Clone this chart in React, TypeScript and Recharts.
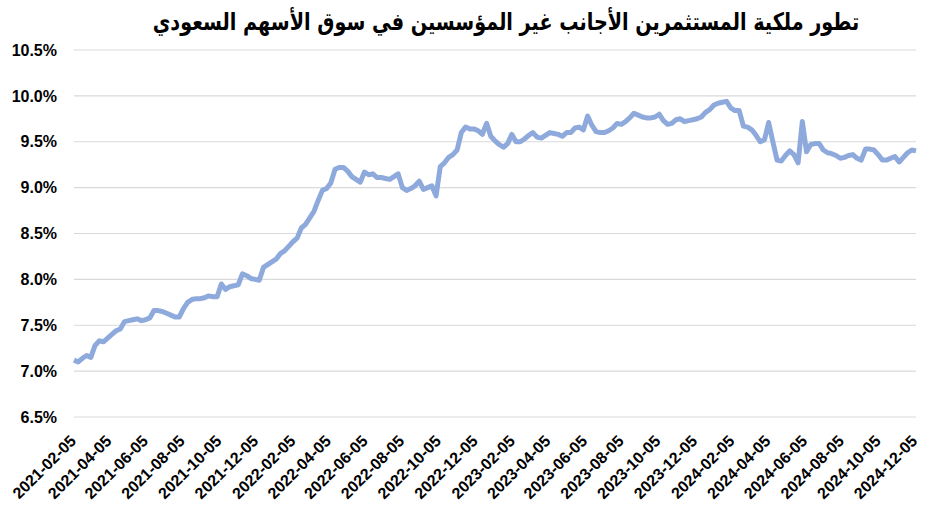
import React from 'react'
import { LineChart, Line, XAxis, YAxis, CartesianGrid } from 'recharts'

const title = 'تطور ملكية المستثمرين الأجانب غير المؤسسين في سوق الأسهم السعودي'

// weekly readings, first week 2021-02-05
const firstWeek = '2021-02-05'
const ownership = [
  7.12, 7.10, 7.14, 7.17, 7.15, 7.28, 7.33, 7.32, 7.36, 7.40,
  7.44, 7.46, 7.54, 7.55, 7.56, 7.57, 7.55, 7.56, 7.58, 7.66,
  7.66, 7.65, 7.63, 7.61, 7.59, 7.59, 7.68, 7.75, 7.78, 7.79,
  7.79, 7.80, 7.82, 7.81, 7.81, 7.95, 7.89, 7.92, 7.93, 7.94,
  8.06, 8.04, 8.01, 8.00, 7.99, 8.13, 8.16, 8.19, 8.22, 8.28,
  8.31, 8.36, 8.41, 8.45, 8.56, 8.60, 8.67, 8.74, 8.86, 8.97,
  8.99, 9.05, 9.20, 9.22, 9.22, 9.18, 9.12, 9.09, 9.06, 9.17,
  9.14, 9.15, 9.11, 9.11, 9.10, 9.09, 9.12, 9.15, 9.00, 8.97,
  8.99, 9.02, 9.07, 8.98, 9.00, 9.02, 8.91, 9.23, 9.27, 9.33,
  9.36, 9.41, 9.60, 9.66, 9.64, 9.64, 9.62, 9.58, 9.70, 9.56,
  9.51, 9.47, 9.44, 9.48, 9.58, 9.50, 9.50, 9.53, 9.57, 9.60,
  9.55, 9.54, 9.57, 9.60, 9.59, 9.58, 9.56, 9.60, 9.60, 9.65,
  9.66, 9.63, 9.78, 9.68, 9.61, 9.60, 9.60, 9.62, 9.65, 9.70,
  9.69, 9.72, 9.76, 9.81, 9.79, 9.77, 9.76, 9.76, 9.77, 9.80,
  9.73, 9.69, 9.70, 9.74, 9.75, 9.72, 9.73, 9.74, 9.75, 9.77,
  9.82, 9.85, 9.90, 9.92, 9.93, 9.94, 9.87, 9.84, 9.84, 9.67,
  9.66, 9.63, 9.57, 9.50, 9.52, 9.71, 9.50, 9.30, 9.29, 9.35,
  9.40, 9.36, 9.27, 9.72, 9.39, 9.47, 9.48, 9.48, 9.41, 9.38,
  9.37, 9.35, 9.32, 9.33, 9.35, 9.36, 9.32, 9.30, 9.42, 9.42,
  9.41, 9.36, 9.30, 9.30, 9.32, 9.34, 9.28, 9.33, 9.38, 9.41,
  9.40,
]

const tickDates = [
  '2021-02-05', '2021-04-05', '2021-06-05', '2021-08-05', '2021-10-05', '2021-12-05',
  '2022-02-05', '2022-04-05', '2022-06-05', '2022-08-05', '2022-10-05', '2022-12-05',
  '2023-02-05', '2023-04-05', '2023-06-05', '2023-08-05', '2023-10-05', '2023-12-05',
  '2024-02-05', '2024-04-05', '2024-06-05', '2024-08-05', '2024-10-05', '2024-12-05',
]

const yTicks = [6.5, 7, 7.5, 8, 8.5, 9, 9.5, 10, 10.5]

const DAY = 86400000
const start = Date.parse(firstWeek)
const data = ownership.map((v, i) => ({ t: start + i * 7 * DAY, v }))
const xTicks = tickDates.map((d) => Date.parse(d))

const font = '"Liberation Sans", Arial, sans-serif'

const fmtDate = (t: number) => new Date(t).toISOString().slice(0, 10)

const DateTick = ({ x, y, payload }: any) => {
  const px = x + 3
  const py = y + 25
  return (
    <text
      x={px}
      y={py}
      transform={`rotate(-45 ${px} ${py})`}
      textAnchor="end"
      fontSize={16}
      fontWeight="bold"
      fontFamily={font}
      fill="#000"
    >
      {fmtDate(payload.value)}
    </text>
  )
}

export default function App() {
  return (
    <div style={{ position: 'absolute', left: 0, top: 0, width: 945, height: 510, background: '#fff' }}>
      <div
        style={{
          position: 'absolute',
          left: 506,
          top: 8,
          transform: 'translateX(-50%) scaleX(0.8)',
          whiteSpace: 'nowrap',
          direction: 'rtl',
          fontFamily: '"DejaVu Sans", sans-serif',
          fontWeight: 'bold',
          fontSize: 24,
          color: '#000',
        }}
      >
        {title}
      </div>
      <LineChart width={945} height={510} data={data} margin={{ top: 50, right: 29, left: 0, bottom: 0 }}>
        <CartesianGrid vertical={false} stroke="#d9d9d9" strokeWidth={1.2} />
        <XAxis
          dataKey="t"
          type="number"
          scale="time"
          domain={[start, 'dataMax']}
          ticks={xTicks}
          interval={0}
          height={93}
          tickSize={0}
          tickMargin={0}
          tickLine={false}
          axisLine={false}
          tick={<DateTick />}
        />
        <YAxis
          domain={[6.5, 10.5]}
          ticks={yTicks}
          width={74}
          tickSize={0}
          tickMargin={17}
          tickLine={false}
          axisLine={false}
          tickFormatter={(v: number) => v.toFixed(1) + '%'}
          tick={{ fontSize: 16, fontWeight: 'bold', fill: '#000', fontFamily: font }}
        />
        <Line
          type="linear"
          dataKey="v"
          stroke="#8ea9db"
          strokeWidth={5}
          strokeLinejoin="round"
          dot={false}
          isAnimationActive={false}
        />
      </LineChart>
    </div>
  )
}
